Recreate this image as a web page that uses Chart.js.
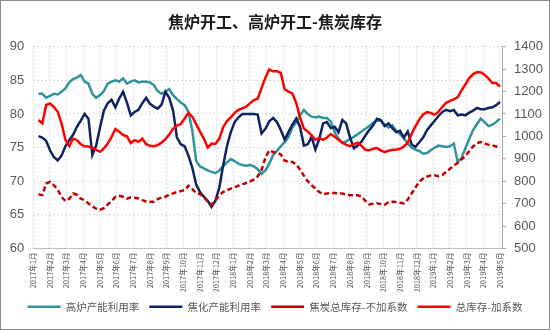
<!DOCTYPE html>
<html>
<head>
<meta charset="utf-8">
<script src="https://cdn.jsdelivr.net/npm/chart.js@4.4.1/dist/chart.umd.min.js"></script>
<style>
    html, body { margin: 0; padding: 0; background: #fff; }
    #cokeChart { display: block; outline: 1px solid #8a8a8a; outline-offset: -1px; }
</style>
</head>
<body>
<canvas id="cokeChart" width="550" height="330"></canvas>
<script>
// 月份刻度
const monthLabels = [
    '2017年1月', '2017年2月', '2017年3月', '2017年4月', '2017年5月', '2017年6月',
    '2017年7月', '2017年8月', '2017年9月', '2017年10月', '2017年11月', '2017年12月',
    '2018年1月', '2018年2月', '2018年3月', '2018年4月', '2018年5月', '2018年6月',
    '2018年7月', '2018年8月', '2018年9月', '2018年10月', '2018年11月', '2018年12月',
    '2019年1月', '2019年2月', '2019年3月', '2019年4月', '2019年5月'
];

// 周度数据（第一周位于1月上旬）
const FIRST_WEEK = 0.31;
const WEEK = 12 / 52;

// 高炉产能利用率 (%)
const blastFurnaceRate = [
    83.0, 83.0, 82.4, 82.7, 83.0, 82.9, 83.3, 83.8, 84.7, 85.2, 85.4, 85.8, 84.8, 84.5, 83.0, 82.4,
    82.8, 83.4, 84.5, 84.8, 85.0, 84.8, 85.3, 84.5, 84.8, 85.0, 84.7, 84.8, 84.8, 84.7, 84.3,
    83.4, 83.0, 83.3, 83.7, 82.8, 82.2, 81.7, 81.3, 80.3, 77.5, 73.0, 72.2, 71.9, 71.6, 71.4, 71.2,
    71.6, 72.2, 72.8, 73.3, 73.0, 72.6, 72.4, 72.3, 72.4, 72.2, 71.8, 71.1, 71.6, 72.6, 73.9,
    74.5, 75.2, 75.8, 76.6, 78.0, 78.8, 79.8, 80.6, 80.0, 79.6, 79.5, 79.6, 79.4, 79.4, 78.9, 77.3,
    76.3, 75.7, 75.9, 76.3, 76.6, 77.0, 77.4, 77.8, 78.2, 78.7, 79.0, 79.0, 78.4, 78.0, 78.3,
    77.5, 77.0, 76.4, 75.6, 75.0, 74.7, 74.5, 74.1, 74.2, 74.6, 75.0, 75.3, 75.2, 75.1, 75.2, 75.6,
    72.8, 73.5, 74.9, 76.3, 77.6, 78.5, 79.3, 78.8, 78.2, 78.4, 78.8, 79.3
];

// 焦化产能利用率 (%)
const cokingRate = [
    76.7, 76.5, 76.0, 74.6, 73.6, 73.1, 73.8, 75.2, 76.1, 76.9, 78.1, 79.0, 80.0, 79.3, 73.9, 75.3,
    78.0, 80.5, 81.6, 82.1, 81.0, 82.3, 83.3, 81.7, 79.8, 80.3, 80.6, 81.6, 82.4, 81.5, 81.1,
    80.8, 81.4, 83.3, 82.4, 80.5, 76.5, 75.5, 75.2, 73.8, 72.0, 69.5, 68.4, 67.7, 67.1, 66.2, 67.1,
    69.0, 72.3, 75.2, 77.3, 78.8, 79.5, 80.0, 80.0, 80.0, 80.0, 79.9, 77.1, 77.8, 78.9, 79.4,
    78.8, 77.6, 76.2, 77.3, 78.4, 79.3, 78.1, 75.3, 75.5, 76.6, 74.7, 76.3, 78.6, 78.8, 77.9, 78.1,
    77.3, 79.1, 78.6, 76.5, 74.9, 75.3, 75.9, 76.8, 77.6, 78.3, 79.3, 79.1, 78.2, 78.6, 77.9,
    77.3, 77.5, 76.5, 77.4, 75.5, 75.1, 75.8, 76.5, 77.6, 78.3, 79.0, 79.7, 80.3, 80.6, 80.4, 80.6,
    79.8, 79.9, 79.8, 80.2, 80.5, 80.9, 80.7, 80.7, 80.9, 81.0, 81.3, 81.8
];

// 焦炭总库存-不加系数 (万吨)
const cokeStockRaw = [
    742, 738, 790, 797, 782, 762, 730, 712, 722, 745, 740, 722, 716, 701, 688, 678,
    673, 680, 696, 712, 730, 735, 731, 722, 728, 726, 723, 716, 710, 708, 708,
    720, 727, 731, 740, 746, 752, 756, 760, 780, 765, 747, 743, 728, 710, 695, 715,
    738, 752, 760, 767, 773, 780, 786, 792, 798, 808, 822, 850, 905, 938, 930,
    926, 920, 892, 887, 886, 875, 852, 825, 800, 782, 768, 752, 742, 745, 747, 747,
    746, 745, 740, 738, 738, 737, 732, 712, 697, 700, 702, 698, 695, 706, 708,
    707, 704, 701, 718, 745, 772, 798, 812, 820, 826, 827, 822, 828, 842, 856, 870,
    882, 898, 912, 935, 955, 970, 975, 968, 963, 960, 955, 950
];

// 总库存-加系数 (万吨)
const cokeStockAdj = [
    1073, 1058, 1140, 1147, 1132, 1110, 1058, 985, 957, 990, 983, 965, 956, 955, 950, 940,
    931, 946, 968, 998, 1033, 1021, 1006, 1000, 970, 983, 976, 990, 965, 958, 956,
    961, 972, 988, 1008, 1035, 1048, 1055, 1080, 1105, 1088, 1055, 1021, 990, 950, 968, 966,
    990, 1040, 1068, 1085, 1105, 1118, 1125, 1132, 1147, 1162, 1168, 1215, 1262, 1299, 1290,
    1290, 1283, 1210, 1200, 1192, 1150, 1085, 1035, 1022, 1005, 985, 992, 985, 995, 1010, 998,
    985, 972, 962, 956, 965, 972, 958, 940, 938, 945, 948, 938, 930, 936, 940,
    940, 945, 955, 972, 1010, 1045, 1075, 1098, 1108, 1105, 1096, 1110, 1132, 1150, 1158, 1165,
    1175, 1205, 1232, 1260, 1278, 1287, 1285, 1275, 1258, 1238, 1238, 1222
];

const toWeekly = values => values.map((v, i) => ({ x: FIRST_WEEK + i * WEEK, y: v }));

const TICK_COLOR = '#595959';
const GRID_COLOR = '#D9D9D9';
const AXIS_COLOR = '#A6A6A6';

function lineSeries(label, values, color, axis, order, dash) {
    return {
        label: label,
        data: toWeekly(values),
        yAxisID: axis,
        borderColor: color,
        backgroundColor: color,
        borderWidth: 2.5,
        borderDash: dash || [],
        pointRadius: 0,
        tension: 0,
        fill: false,
        order: order
    };
}

const ctx = document.getElementById('cokeChart').getContext('2d');

new Chart(ctx, {
    type: 'line',
    data: {
        datasets: [
            lineSeries('高炉产能利用率', blastFurnaceRate, '#31939B', 'y', 4),
            lineSeries('焦化产能利用率', cokingRate, '#0E2461', 'y', 3),
            lineSeries('焦炭总库存-不加系数', cokeStockRaw, '#C00000', 'y1', 2, [5, 3]),
            lineSeries('总库存-加系数', cokeStockAdj, '#FF0000', 'y1', 1)
        ]
    },
    options: {
        responsive: false,
        animation: false,
        devicePixelRatio: 1,
        layout: { padding: { top: 0, bottom: 8, left: 0, right: 0 } },
        plugins: {
            title: {
                display: true,
                text: '焦炉开工、高炉开工-焦炭库存',
                color: '#1a1a1a',
                font: { family: '"Noto Sans CJK SC"', size: 16, weight: 'bold' },
                padding: { top: 12, bottom: 15.5 }
            },
            legend: {
                position: 'bottom',
                labels: {
                    usePointStyle: true,
                    pointStyle: 'line',
                    pointStyleWidth: 33,
                    padding: 10,
                    color: TICK_COLOR,
                    font: { family: '"Noto Sans CJK SC"', size: 10.5 },
                    sort: (a, b) => a.datasetIndex - b.datasetIndex
                }
            },
            tooltip: { enabled: false }
        },
        scales: {
            x: {
                type: 'linear',
                min: 0,
                max: 28.12,
                afterFit: scale => { scale.height = 43; },
                grid: { color: GRID_COLOR, drawTicks: false },
                border: { display: true, color: '#BFBFBF', dash: [2, 2] },
                ticks: {
                    stepSize: 1,
                    includeBounds: false,
                    autoSkip: false,
                    minRotation: 90,
                    maxRotation: 90,
                    padding: 4,
                    color: TICK_COLOR,
                    font: { family: '"Noto Sans CJK SC"', size: 7.5 },
                    callback: value => monthLabels[value] ?? ''
                }
            },
            y: {
                position: 'left',
                min: 60,
                max: 90,
                afterFit: scale => { scale.width = 33.3; },
                grid: { color: GRID_COLOR, drawTicks: false },
                border: { display: false, dash: [2, 2] },
                ticks: {
                    stepSize: 5,
                    padding: 9,
                    color: TICK_COLOR,
                    font: { family: '"Liberation Sans"', size: 13 },
                    callback: value => String(value)
                }
            },
            y1: {
                position: 'right',
                min: 500,
                max: 1400,
                afterFit: scale => { scale.width = 48; },
                grid: { drawOnChartArea: false, drawTicks: true, tickLength: 4, color: AXIS_COLOR },
                border: { display: true, color: AXIS_COLOR },
                ticks: {
                    stepSize: 100,
                    padding: 8,
                    color: TICK_COLOR,
                    font: { family: '"Liberation Sans"', size: 13 },
                    callback: value => String(value)
                }
            }
        }
    }
});
</script>
</body>
</html>
